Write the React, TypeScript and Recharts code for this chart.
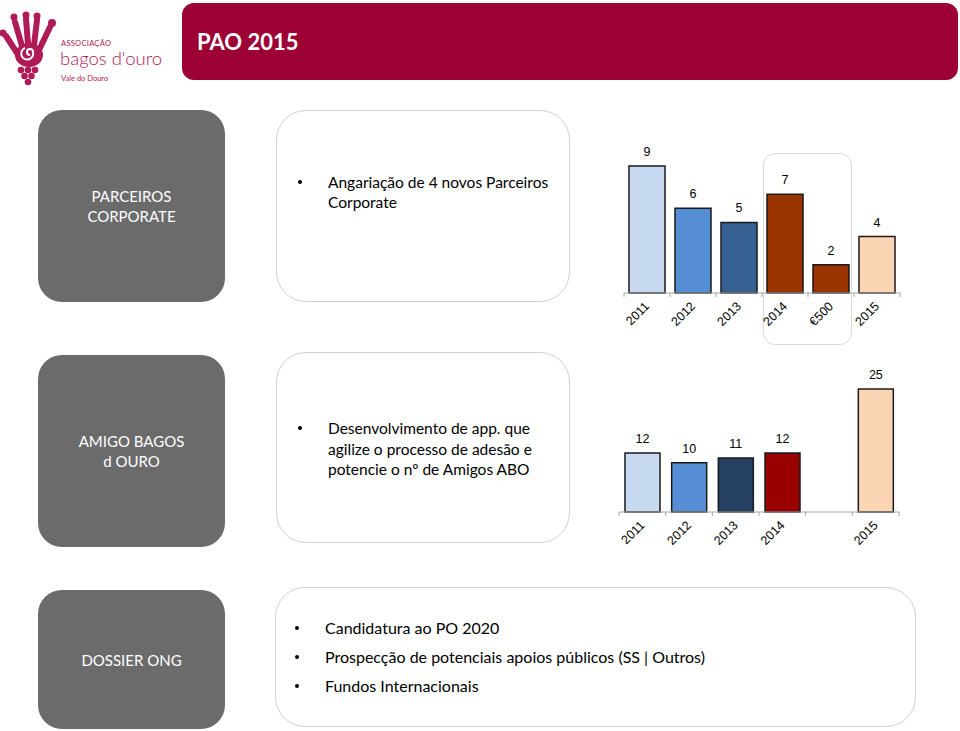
import React from 'react';
import { BarChart, Bar, XAxis, YAxis, Cell, LabelList } from 'recharts';

// Parceiros Corporate
const partnerYears = ['2011', '2012', '2013', '2014', '€500', '2015'];
const partnerValues = [9, 6, 5, 7, 2, 4];
const partnerColors = ['#c6d9f1', '#558ed5', '#376092', '#993300', '#993300', '#fcd5b5'];

// Amigo Bagos d'Ouro
const friendYears = ['2011', '2012', '2013', '2014', '', '2015'];
const friendValues: (number | null)[] = [12, 10, 11, 12, null, 25];
const friendColors = ['#c6d9f1', '#558ed5', '#254061', '#990000', '#ffffff', '#fcd5b5'];

const partnerData = partnerYears.map((year, i) => ({ year, value: partnerValues[i] }));
const friendData = friendYears.map((year, i) => ({ year, value: friendValues[i] }));

const CRIMSON = '#9c0034';
const GRAY = '#6b6b6b';
const TEXT_FONT = 'Lato, "Open Sans", sans-serif';
const CHART_FONT = '"Liberation Sans", Arial, sans-serif';

const SlantTick = (props: any) => {
  const { x, y, payload, index, band, count } = props;
  return (
    <g>
      <line x1={x - band / 2} y1={y} x2={x - band / 2} y2={y + 4} stroke="#a6a6a6" />
      {index === count - 1 && (
        <line x1={x + band / 2} y1={y} x2={x + band / 2} y2={y + 4} stroke="#a6a6a6" />
      )}
      <g transform={`translate(${x + 3},${y + 14}) rotate(-45)`}>
        <text textAnchor="end" fontSize={12.5} fill="#000" fontFamily={CHART_FONT}>
          {payload.value}
        </text>
      </g>
    </g>
  );
};

function SmallBars({
  data,
  colors,
  width,
  height,
  margin,
  axisHeight,
  barSize,
  max,
}: {
  data: any[];
  colors: string[];
  width: number;
  height: number;
  margin: { top: number; right: number; left: number; bottom: number };
  axisHeight: number;
  barSize: number;
  max: number;
}) {
  const band = (width - margin.left - margin.right) / data.length;
  return (
    <BarChart width={width} height={height} data={data} margin={margin} style={{ fontFamily: CHART_FONT }}>
      <XAxis
        dataKey="year"
        height={axisHeight}
        interval={0}
        stroke="#a6a6a6"
        tickLine={false}
        tickSize={0}
        tickMargin={0}
        tick={(p: any) => <SlantTick {...p} band={band} count={data.length} />}
      />
      <YAxis hide domain={[0, max]} />
      <Bar dataKey="value" barSize={barSize} stroke="#1a1a1a" strokeWidth={1.5} isAnimationActive={false}>
        {data.map((d, i) => (
          <Cell key={i} fill={colors[i]} />
        ))}
        <LabelList dataKey="value" position="top" offset={10} fontSize={12.5} fill="#000" fontFamily={CHART_FONT} />
      </Bar>
    </BarChart>
  );
}

const abs = (left: number, top: number, width: number, height: number): React.CSSProperties => ({
  position: 'absolute',
  left,
  top,
  width,
  height,
});

function GrayBox({ top, height, lines }: { top: number; height: number; lines: string[] }) {
  return (
    <div
      style={{
        ...abs(38, top, 187, height),
        background: GRAY,
        borderRadius: 24,
        color: '#fff',
        fontFamily: TEXT_FONT,
        fontSize: 15,
        lineHeight: '20px',
        display: 'flex',
        flexDirection: 'column',
        alignItems: 'center',
        justifyContent: 'center',
        textAlign: 'center',
      }}
    >
      {lines.map((l) => (
        <div key={l}>{l}</div>
      ))}
    </div>
  );
}

function WhiteBox({ left, top, width, height }: { left: number; top: number; width: number; height: number }) {
  return (
    <div
      style={{
        ...abs(left, top, width, height),
        border: '1px solid #d0d0d0',
        borderRadius: 30,
        boxSizing: 'border-box',
        background: '#fff',
      }}
    />
  );
}

function BulletDot() {
  return (
    <span
      style={{
        position: 'absolute',
        left: -30,
        top: '50%',
        width: 4,
        height: 4,
        marginTop: -2,
        borderRadius: 2,
        background: '#000',
      }}
    />
  );
}

function Bullet({ left, top, lines, fontSize, lineHeight }: { left: number; top: number; lines: string[]; fontSize: number; lineHeight: number }) {
  return (
    <div style={{ position: 'absolute', left, top, fontFamily: TEXT_FONT, fontSize, color: '#000' }}>
      {lines.map((l, i) => (
        <div key={i} style={{ position: 'relative', lineHeight: `${lineHeight}px`, whiteSpace: 'nowrap' }}>
          {i === 0 && <BulletDot />}
          {l}
        </div>
      ))}
    </div>
  );
}

function Logo() {
  const c = '#b01a57';
  return (
    <svg width={180} height={95} style={{ position: 'absolute', left: 0, top: 0 }}>
      {/* fingers */}
      <g stroke={c} strokeWidth={6} strokeLinecap="round" fill="none">
        <line x1={6} y1={36} x2={19} y2={56} />
        <line x1={15} y1={22} x2={22} y2={46} />
        <line x1={26} y1={19} x2={28} y2={44} />
        <line x1={37} y1={20} x2={34} y2={45} />
        <line x1={50} y1={27} x2={39} y2={50} />
      </g>
      <circle cx={3} cy={33} r={3.5} fill={c} />
      <circle cx={14} cy={17} r={3.5} fill={c} />
      <circle cx={26} cy={15} r={3.5} fill={c} />
      <circle cx={37} cy={16} r={3.5} fill={c} />
      <circle cx={52} cy={23} r={4} fill={c} />
      <ellipse cx={29} cy={55} rx={14} ry={12} fill={c} />
      <path d="M30 55 a3 3 0 1 1 3 -3 a6 6 0 1 1 -8 -4" stroke="#fff" strokeWidth={2} fill="none" />
      {/* grapes */}
      {[
        [21, 70],
        [28, 70],
        [35, 70],
        [24.5, 76],
        [31.5, 76],
        [28, 82],
      ].map(([x, y], i) => (
        <circle key={i} cx={x} cy={y} r={3.3} fill={c} />
      ))}
      <text x={61} y={46} fontSize={7.5} fill={c} fontFamily={TEXT_FONT} letterSpacing={0.3}>
        ASSOCIAÇÃO
      </text>
      <text x={60} y={65} fontSize={18.5} fill={c} fontFamily={TEXT_FONT} fontWeight={300}>
        bagos d'ouro
      </text>
      <text x={61} y={81} fontSize={7.5} fill={c} fontFamily={TEXT_FONT}>
        Vale do Douro
      </text>
    </svg>
  );
}

export default function App() {
  return (
    <div style={{ ...abs(0, 0, 960, 731), background: '#fff', overflow: 'hidden' }}>
      <Logo />

      {/* header */}
      <div
        style={{
          ...abs(182, 3, 776, 77),
          background: CRIMSON,
          borderRadius: 12,
          color: '#fff',
          fontFamily: TEXT_FONT,
          fontWeight: 700,
          fontSize: 22,
          display: 'flex',
          alignItems: 'center',
          paddingLeft: 15,
          boxSizing: 'border-box',
        }}
      >
        PAO 2015
      </div>

      <GrayBox top={110} height={192} lines={['PARCEIROS', 'CORPORATE']} />
      <GrayBox top={355} height={192} lines={['AMIGO BAGOS', 'd OURO']} />
      <GrayBox top={590} height={139} lines={['DOSSIER ONG']} />

      <WhiteBox left={276} top={110} width={294} height={192} />
      <WhiteBox left={276} top={352} width={294} height={191} />
      <WhiteBox left={275} top={587} width={641} height={140} />

      <Bullet left={328} top={172} fontSize={15.5} lineHeight={20} lines={['Angariação de 4 novos Parceiros', 'Corporate']} />
      <Bullet
        left={328}
        top={418}
        fontSize={15.5}
        lineHeight={20.5}
        lines={['Desenvolvimento de app. que', 'agilize o processo de adesão e', 'potencie o nº de Amigos ABO']}
      />
      <div style={{ position: 'absolute', left: 325, top: 613, fontFamily: TEXT_FONT, fontSize: 16 }}>
        {['Candidatura ao PO 2020', 'Prospecção de potenciais apoios públicos (SS | Outros)', 'Fundos Internacionais'].map((t) => (
          <div key={t} style={{ position: 'relative', lineHeight: '29px', whiteSpace: 'nowrap' }}>
            <BulletDot />
            {t}
          </div>
        ))}
      </div>

      {/* highlight around 2014 / €500 */}
      <div style={{ ...abs(763, 153, 89, 192), border: '1px solid #d9d9d9', borderRadius: 12, boxSizing: 'border-box' }} />

      <div style={abs(600, 140, 320, 210)}>
        <SmallBars
          data={partnerData}
          colors={partnerColors}
          width={320}
          height={210}
          margin={{ top: 26, right: 20, left: 24, bottom: 0 }}
          axisHeight={57}
          barSize={36}
          max={9}
        />
      </div>

      <div style={abs(600, 355, 320, 210)}>
        <SmallBars
          data={friendData}
          colors={friendColors}
          width={320}
          height={210}
          margin={{ top: 34, right: 21, left: 19, bottom: 0 }}
          axisHeight={53}
          barSize={35}
          max={25}
        />
      </div>
    </div>
  );
}
